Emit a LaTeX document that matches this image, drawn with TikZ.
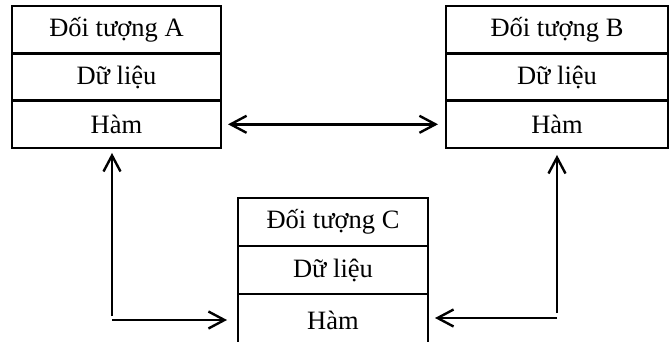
\documentclass[tikz,border=0pt]{standalone}
\usepackage{fontspec}
\setmainfont{Liberation Serif}
\usetikzlibrary{positioning,arrows.meta}

\begin{document}
\begin{tikzpicture}[x=1pt,y=-1pt,node distance=0pt,>={Straight Barb[length=16pt,width=17pt]},line width=2.4pt]
\tikzstyle{cell}=[draw,line width=2.7pt,outer sep=0pt,inner sep=0pt,minimum height=47.3pt,font=\fontsize{26.5}{30}\selectfont]
\useasboundingbox (0,0) rectangle (669,341);
% object A
\node[cell,minimum width=209pt] (aT) at (116.5,29.7) {Đối tượng A};
\node[cell,minimum width=209pt,below=of aT] (aD) {Dữ liệu};
\node[cell,minimum width=209pt,below=of aD] (aH) {Hàm};
% object B
\node[cell,minimum width=222pt] (bT) at (557,29.7) {Đối tượng B};
\node[cell,minimum width=222pt,below=of bT] (bD) {Dữ liệu};
\node[cell,minimum width=222pt,below=of bD] (bH) {Hàm};
% object C
\node[cell,minimum width=190pt,minimum height=48pt] (cT) at (333,222) {Đối tượng C};
\node[cell,minimum width=190pt,minimum height=48pt,below=of cT] (cD) {Dữ liệu};
\node[cell,minimum width=190pt,minimum height=52pt,below=of cD] (cH) {Hàm};
% connectors
\coordinate (aturn) at (112,320);
\coordinate (bturn) at (557,318);
\draw[<->,shorten <=7pt,shorten >=8pt] (aH) -- (bH);
\draw[->,shorten <=4pt,shorten >=5pt] (aturn) -- (aturn |- aH.south);
\draw[->,shorten >=11pt] (aturn) -- (aturn -| cH.west);
\draw[->,shorten <=5pt,shorten >=7pt] (bturn) -- (bH.south);
\draw[->,shorten >=7pt] (bturn) -- (bturn -| cH.east);
\end{tikzpicture}
\end{document}
